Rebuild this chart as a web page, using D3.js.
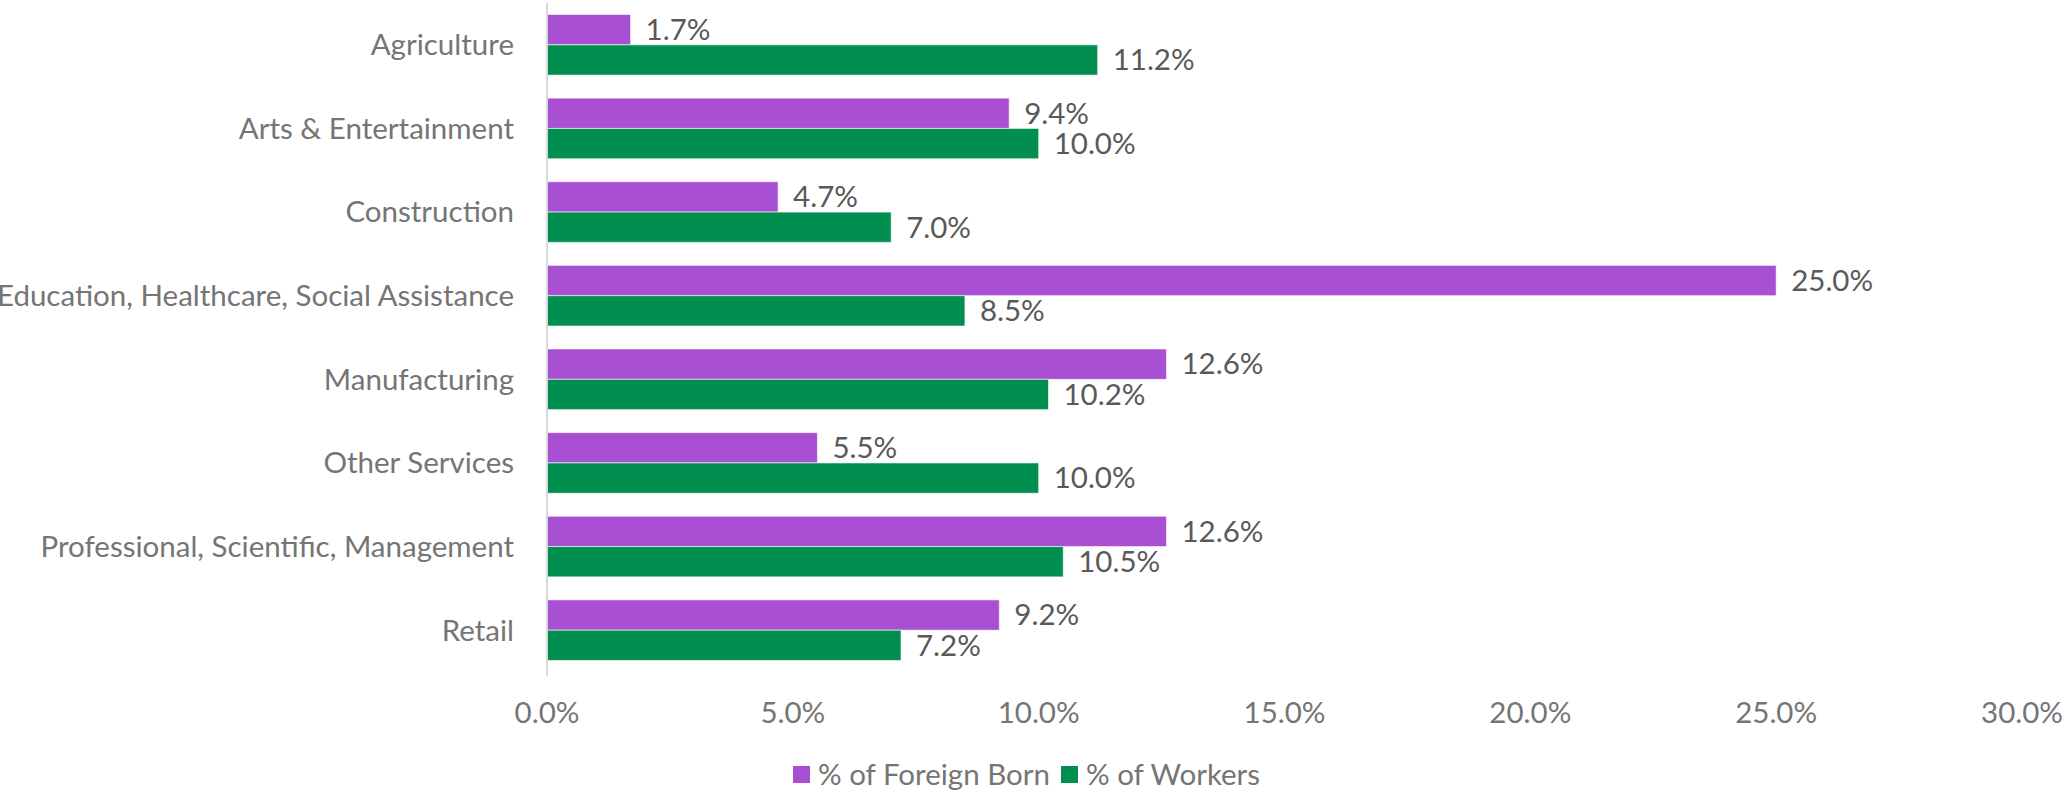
<!DOCTYPE html>
<html>
<head>
<meta charset="utf-8">
<script src="https://cdn.jsdelivr.net/npm/d3@7.9.0/dist/d3.min.js"></script>
<style>
  html, body { margin: 0; padding: 0; background: #fff; }
  svg { display: block; font-family: Lato, "Open Sans", sans-serif; }
</style>
</head>
<body>
<svg id="chart" width="2066" height="793"></svg>
<script>
const categories = [
  'Agriculture',
  'Arts & Entertainment',
  'Construction',
  'Education, Healthcare, Social Assistance',
  'Manufacturing',
  'Other Services',
  'Professional, Scientific, Management',
  'Retail'
];
const seriesNames = ['% of Foreign Born', '% of Workers'];
const foreignBorn = [1.7, 9.4, 4.7, 25.0, 12.6, 5.5, 12.6, 9.2];
const workers = [11.2, 10.0, 7.0, 8.5, 10.2, 10.0, 10.5, 7.2];
const xTicks = [0, 5, 10, 15, 20, 25, 30];
const colors = ['#a94fd3', '#008f4f'];

const svg = d3.select('#chart');
const plotLeft = 547, plotRight = 2022, plotTop = 3, plotBottom = 672;
const fontSize = 29.5;

const x = d3.scaleLinear().domain([0, 30]).range([plotLeft, plotRight]);
const y = d3.scaleBand().domain(categories).range([plotTop, plotBottom])
  .paddingInner(0.275).paddingOuter(0.1375);
const sub = d3.scaleBand().domain(seriesNames).range([0, y.bandwidth()]);

const rows = categories.map((c, i) => ({
  cat: c,
  vals: [foreignBorn[i], workers[i]]
}));

// bars + value labels
const g = svg.append('g');
rows.forEach((r) => {
  r.vals.forEach((v, si) => {
    const y0 = y(r.cat) + sub(seriesNames[si]);
    g.append('rect')
      .attr('x', x(0))
      .attr('y', y0)
      .attr('width', x(v) - x(0))
      .attr('height', sub.bandwidth())
      .attr('fill', colors[si])
      .attr('stroke', '#fff')
      .attr('stroke-opacity', 0.6)
      .attr('stroke-width', 1);
    g.append('text')
      .attr('x', x(v) + 15)
      .attr('y', y0 + sub.bandwidth() / 2)
      .attr('dy', '0.35em')
      .attr('font-size', fontSize)
      .attr('fill', '#595959')
      .text(v.toFixed(1) + '%');
  });
});

// vertical axis line
svg.append('line')
  .attr('x1', x(0)).attr('x2', x(0))
  .attr('y1', plotTop).attr('y2', plotBottom + 4)
  .attr('stroke', '#d9d9d9').attr('stroke-width', 2);

// category labels
svg.append('g').selectAll('text')
  .data(categories)
  .join('text')
  .attr('x', x(0) - 33)
  .attr('y', (d) => y(d) + y.bandwidth() / 2)
  .attr('dy', '0.35em')
  .attr('text-anchor', 'end')
  .attr('font-size', fontSize)
  .attr('fill', '#757575')
  .text((d) => d);

// x tick labels
svg.append('g').selectAll('text')
  .data(xTicks)
  .join('text')
  .attr('x', (d) => x(d))
  .attr('y', 713)
  .attr('dy', '0.35em')
  .attr('text-anchor', 'middle')
  .attr('font-size', fontSize)
  .attr('fill', '#757575')
  .text((d) => d.toFixed(1) + '%');

// legend
const legendX = [793, 1061];
const lg = svg.append('g');
seriesNames.forEach((name, i) => {
  lg.append('rect')
    .attr('x', legendX[i]).attr('y', 766)
    .attr('width', 17).attr('height', 17)
    .attr('fill', colors[i]);
  lg.append('text')
    .attr('x', legendX[i] + 25)
    .attr('y', 775)
    .attr('dy', '0.35em')
    .attr('font-size', fontSize)
    .attr('fill', '#757575')
    .text(name);
});
</script>
</body>
</html>
